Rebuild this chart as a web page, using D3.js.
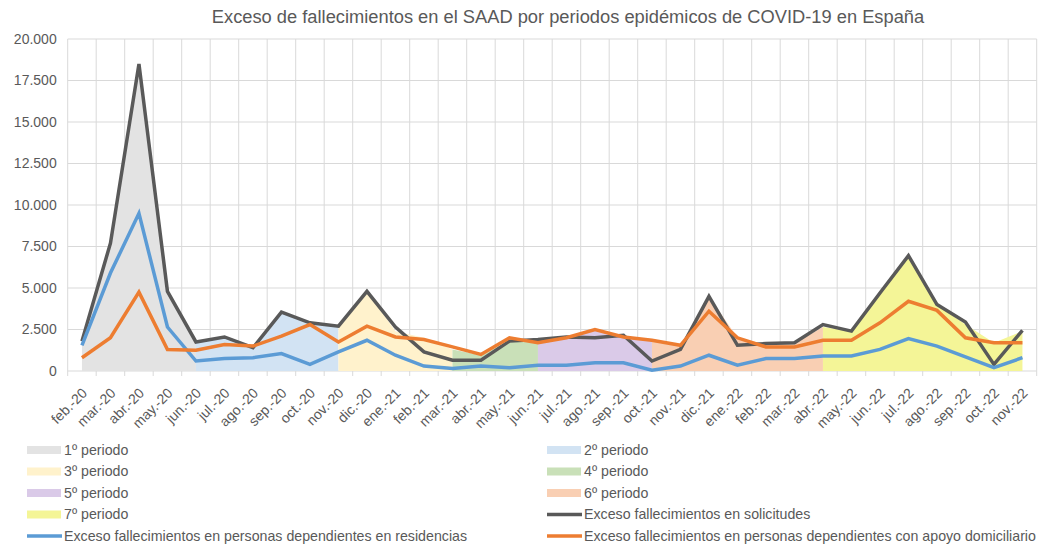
<!DOCTYPE html>
<html>
<head>
<meta charset="utf-8">
<script src="https://cdn.jsdelivr.net/npm/d3@7"></script>
<style>
  body { margin: 0; background: #fff; }
  text { font-family: "Liberation Sans", Arial, sans-serif; fill: #595959; }
</style>
</head>
<body>
<div id="chart"></div>
<script>
var months = ["feb.-20","mar.-20","abr.-20","may.-20","jun.-20","jul.-20","ago.-20","sep.-20","oct.-20","nov.-20","dic.-20",
              "ene.-21","feb.-21","mar.-21","abr.-21","may.-21","jun.-21","jul.-21","ago.-21","sep.-21","oct.-21","nov.-21","dic.-21",
              "ene.-22","feb.-22","mar.-22","abr.-22","may.-22","jun.-22","jul.-22","ago.-22","sep.-22","oct.-22","nov.-22"];

// Exceso fallecimientos en solicitudes
var solicitudes = [1800, 7700, 18500, 4800, 1750, 2050, 1400, 3550, 2900, 2700, 4800,
                   2650, 1150, 650, 650, 1800, 1900, 2050, 2000, 2150, 600, 1300, 4500,
                   1550, 1650, 1700, 2800, 2400, 4700, 6950, 4000, 2950, 400, 2450];
// ... en personas dependientes en residencias
var residencias = [1550, 5900, 9500, 2650, 600, 750, 800, 1050, 400, 1150, 1850,
                   950, 300, 150, 300, 200, 350, 350, 500, 500, 50, 300, 950,
                   350, 750, 750, 900, 900, 1300, 1950, 1500, 850, 200, 800];
// ... con apoyo domiciliario
var domicilio = [800, 2000, 4750, 1300, 1250, 1600, 1500, 2100, 2800, 1750, 2700,
                 2050, 1900, 1450, 1000, 2000, 1700, 2000, 2500, 2050, 1850, 1550, 3600,
                 2000, 1450, 1450, 1850, 1850, 2900, 4200, 3650, 2000, 1700, 1700];

var periodNames = ["1º periodo","2º periodo","3º periodo","4º periodo","5º periodo","6º periodo","7º periodo"];
var periodStarts = ["feb.-20","jun.-20","nov.-20","mar.-21","jun.-21","oct.-21","abr.-22"];
var periodValues = [
  [1800, 7700, 18500, 4800, 1750],
  [1750, 2050, 1500, 3550, 2900, 2700],
  [2700, 4800, 2400, 2000, 1300],
  [1300, 950, 1850, 1800],
  [1800, 2100, 2450, 2150, 1800],
  [1800, 1500, 4500, 2000, 1600, 1650, 2650],
  [2650, 2400, 4700, 6950, 4000, 2800, 1700, 2400]
];
var periodColors = ["#e3e3e3","#d2e3f3","#fff2cc","#c9e0b8","#dacae8","#f9cfb3","#f4f597"];

var yTicks = [0, 2500, 5000, 7500, 10000, 12500, 15000, 17500, 20000];

var lineSeries = [
  {name: "Exceso fallecimientos en solicitudes", values: solicitudes, color: "#595959"},
  {name: "Exceso fallecimientos en personas dependientes en residencias", values: residencias, color: "#5b9bd5"},
  {name: "Exceso fallecimientos en personas dependientes con apoyo domiciliario", values: domicilio, color: "#ed7d31"}
];

var W = 1039, H = 544;
var margin = {top: 39, right: 2.3, bottom: 173, left: 67.7},
    width = W - margin.left - margin.right,
    height = H - margin.top - margin.bottom;

var fmt = d3.formatLocale({decimal: ",", thousands: ".", grouping: [3], currency: ["", "€"]}).format(",d");

var svgRoot = d3.select("#chart").append("svg")
    .attr("width", W)
    .attr("height", H);

svgRoot.append("text")
    .attr("x", 568)
    .attr("y", 23)
    .attr("text-anchor", "middle")
    .style("font-size", "18.3px")
    .text("Exceso de fallecimientos en el SAAD por periodos epidémicos de COVID-19 en España");

var svg = svgRoot.append("g")
    .attr("transform", "translate(" + margin.left + "," + margin.top + ")");

var x = d3.scaleBand().domain(months).range([0, width]);
var y = d3.scaleLinear().domain([0, 20000]).range([height, 0]);
var cx = function (m) { return x(m) + x.bandwidth() / 2; };

// grid
svg.selectAll(".hgrid")
    .data(yTicks)
    .enter().append("line")
    .attr("x1", 0).attr("x2", width)
    .attr("y1", d => y(d)).attr("y2", d => y(d))
    .attr("stroke", "#d9d9d9").attr("stroke-width", 1);

var bounds = d3.range(months.length + 1).map(i => i * x.bandwidth());
svg.selectAll(".vgrid")
    .data(bounds)
    .enter().append("line")
    .attr("x1", d => d).attr("x2", d => d)
    .attr("y1", 0).attr("y2", height + 5)
    .attr("stroke", "#d9d9d9").attr("stroke-width", 1);

// period areas
var area = d3.area()
    .x(d => cx(d.m))
    .y0(height)
    .y1(d => y(d.v));

periodValues.forEach(function (vals, i) {
    var s = months.indexOf(periodStarts[i]);
    var pts = vals.map((v, j) => ({m: months[s + j], v: v}));
    svg.append("path")
        .datum(pts)
        .attr("d", area)
        .attr("fill", periodColors[i]);
});

// lines
var line = d3.line()
    .x((d, i) => cx(months[i]))
    .y(d => y(d));

lineSeries.forEach(function (s) {
    svg.append("path")
        .datum(s.values)
        .attr("d", line)
        .attr("fill", "none")
        .attr("stroke", s.color)
        .attr("stroke-width", 3.5)
        .attr("stroke-linejoin", "miter");
});

// y labels
svg.selectAll(".ylab")
    .data(yTicks)
    .enter().append("text")
    .attr("x", -11)
    .attr("y", d => y(d))
    .attr("dy", "0.35em")
    .attr("text-anchor", "end")
    .style("font-size", "14px")
    .text(d => fmt(d));

// x labels
svg.selectAll(".xlab")
    .data(months)
    .enter().append("text")
    .attr("transform", d => "translate(" + (cx(d) + 6) + "," + (height + 23) + ") rotate(-45)")
    .attr("text-anchor", "end")
    .style("font-size", "14px")
    .text(d => d);

// legend
var legendItems = [];
periodNames.forEach((n, i) => legendItems.push({name: n, type: "area", color: periodColors[i]}));
lineSeries.forEach(s => legendItems.push({name: s.name, type: "line", color: s.color}));

var rowsY = [450, 471.5, 493, 514.5, 536];
var cols = [{key: 27, text: 64}, {key: 547, text: 584}];

var leg = svgRoot.selectAll(".leg")
    .data(legendItems)
    .enter().append("g")
    .attr("transform", (d, i) => "translate(0," + rowsY[Math.floor(i / 2)] + ")");

leg.each(function (d, i) {
    var g = d3.select(this), c = cols[i % 2];
    if (d.type === "area") {
        g.append("rect")
            .attr("x", c.key).attr("y", -4)
            .attr("width", 34).attr("height", 8)
            .attr("fill", d.color);
    } else {
        g.append("line")
            .attr("x1", c.key).attr("x2", c.key + 35)
            .attr("y1", 0).attr("y2", 0)
            .attr("stroke", d.color).attr("stroke-width", 3.5);
    }
    g.append("text")
        .attr("x", c.text)
        .attr("dy", "0.35em")
        .style("font-size", "14.2px")
        .text(d.name);
});
</script>
</body>
</html>
